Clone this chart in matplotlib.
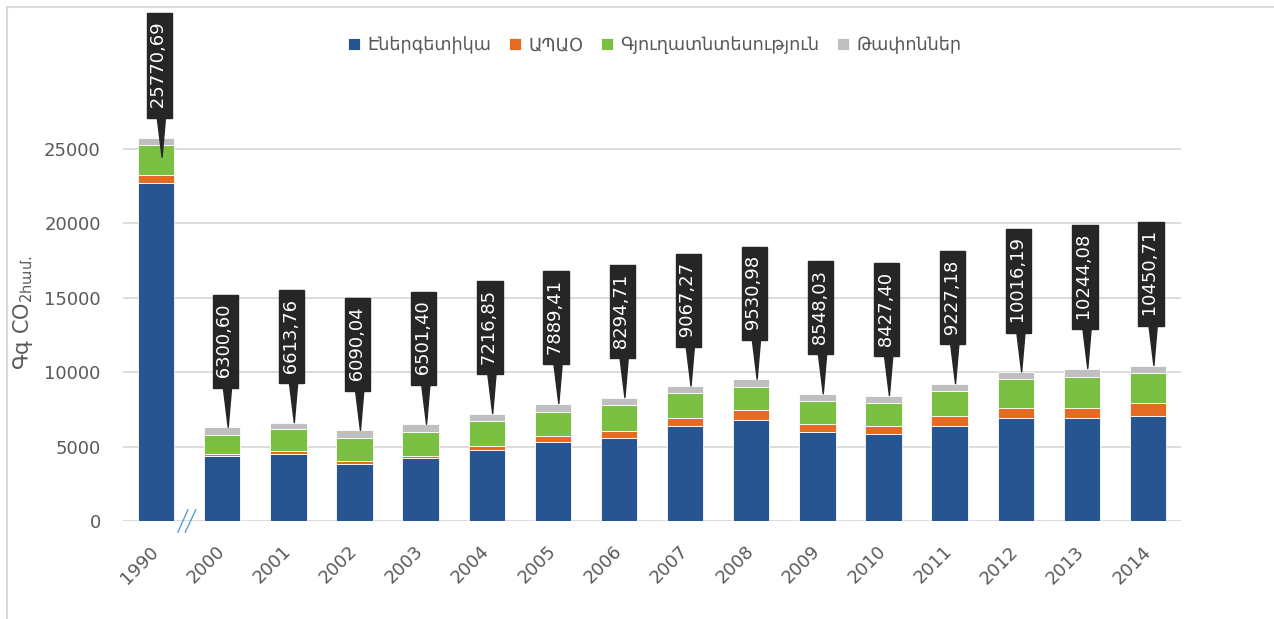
"""
Stacked GHG emissions by sector (Armenia), 1990 and 2000-2014,
with Excel-style callouts for the yearly totals.
"""

import matplotlib
matplotlib.use("Agg")
import matplotlib.pyplot as plt
import numpy as np
from matplotlib.lines import Line2D

plt.rcParams["font.family"] = ["DejaVu Sans"]

years = ["1990", "2000", "2001", "2002", "2003", "2004", "2005", "2006",
         "2007", "2008", "2009", "2010", "2011", "2012", "2013", "2014"]

# sector values (Gg CO2 eq.)
energy = [22740, 4386, 4523, 3841, 4250, 4796, 5325, 5596,
          6409, 6816, 6003, 5867, 6409, 6951, 6951, 7087]
ippu = [516, 114, 161, 161, 136, 272, 407, 434,
        542, 677, 542, 542, 678, 678, 678, 840]
agriculture = [2012, 1250, 1476, 1591, 1617, 1637, 1626, 1734,
               1626, 1491, 1490, 1491, 1626, 1897, 2032, 2005]
waste = [503, 551, 454, 497, 498, 512, 531, 531,
         490, 547, 513, 527, 514, 490, 583, 519]

totals = [25770.69, 6300.60, 6613.76, 6090.04, 6501.40, 7216.85, 7889.41, 8294.71,
          9067.27, 9530.98, 8548.03, 8427.40, 9227.18, 10016.19, 10244.08, 10450.71]

series_names = ["Էներգետիկա", "ԱՊԱՕ", "Գյուղատնտեսություն", "Թափոններ"]
colors = ["#275591", "#e46c22", "#7bbf43", "#bfbfbf"]

TEXT = "#595959"
CALLOUT = "#262626"

fig = plt.figure(figsize=(12.74, 6.19), dpi=100)
ax = fig.add_axes([0.0966, 0.1583, 0.8304, 0.673])

x = np.arange(len(years))
bottom = np.zeros(len(years))
handles = []
for vals, name, c in zip([energy, ippu, agriculture, waste], series_names, colors):
    bars = ax.bar(x, vals, width=0.55, bottom=bottom, color=c,
                  edgecolor="white", linewidth=0.6, label=name, zorder=2)
    handles.append(bars)
    bottom += np.array(vals)

ax.set_xlim(-0.5, len(years) - 0.5)
ax.set_ylim(0, 28000)
ax.set_yticks(range(0, 25001, 5000))
ax.yaxis.grid(True, color="#d9d9d9", lw=1.3, zorder=0)
ax.set_axisbelow(True)
for s in ax.spines.values():
    s.set_visible(False)

ax.set_xticks(x)
ax.set_xticklabels(years, rotation=45, ha="right", va="center", rotation_mode="anchor")
ax.tick_params(axis="x", length=0, pad=20, labelsize=13, labelcolor=TEXT)
ax.tick_params(axis="y", length=0, pad=16, labelsize=13, labelcolor=TEXT)

ax.set_ylabel(r"Գգ CO$_{\mathregular{2համ.}}$", fontsize=15, color=TEXT)
ax.yaxis.set_label_coords(-0.083, 0.5)

# axis break between 1990 and 2000
for x0, x1 in [(0.33, 0.48), (0.44, 0.60)]:
    ax.add_line(Line2D([x0, x1], [-750, 750], color="#5b9bd5", lw=1.0, clip_on=False))

# callouts with the totals; the 1990 one points inside the bar
for i, tot in enumerate(totals):
    tip = 24450 if i == 0 else tot
    label = " " + f"{tot:.2f}".replace(".", ",") + " "
    ax.annotate(label, xy=(i + 0.09, tip),
                xytext=(-2, 31), textcoords="offset points",
                rotation=90, ha="center", va="bottom", color="white", fontsize=13,
                bbox=dict(boxstyle="square,pad=0.2", fc=CALLOUT, ec=CALLOUT),
                arrowprops=dict(arrowstyle="wedge,tail_width=0.45,shrink_factor=0.5",
                                fc=CALLOUT, ec=CALLOUT, relpos=(0.6, 0.1),
                                shrinkA=0, shrinkB=0),
                annotation_clip=False, zorder=5)

fig.legend(handles, series_names, loc="center", bbox_to_anchor=(0.514, 1 - 45 / 619),
           ncol=4, frameon=False, handlelength=0.7, handleheight=0.7,
           columnspacing=1.0, handletextpad=0.4, fontsize=12.7, labelcolor=TEXT)

# chart area border (only top and left are visible in the crop)
fig.add_artist(Line2D([7 / 1274, 1], [1 - 7 / 619, 1 - 7 / 619], color="#d9d9d9", lw=1.5))
fig.add_artist(Line2D([7 / 1274, 7 / 1274], [0, 1 - 7 / 619], color="#d9d9d9", lw=1.5))

fig.savefig("out.png", dpi=100)
